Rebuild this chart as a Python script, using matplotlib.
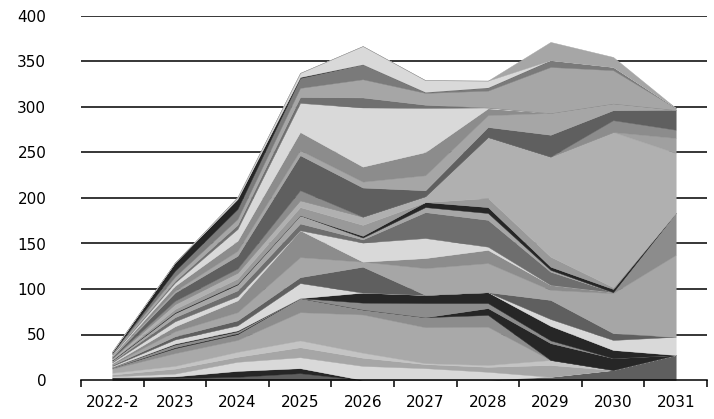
import numpy as np
import matplotlib
matplotlib.use("Agg")
import matplotlib.pyplot as plt
from matplotlib.ticker import FixedLocator, NullFormatter

categories = ["2022-2", "2023", "2024", "2025", "2026", "2027", "2028", "2029", "2030", "2031"]

# stacked series, bottom -> top
s01 = [2, 2, 3.5, 7.5, 0, 0, 0, 3.5, 11, 27.5]
s02 = [1, 2, 6.5, 5.5, 0, 0, 0, 0, 0, 0]
s03 = [1, 3, 10, 12, 15.5, 13, 9, 0, 0, 0]
s04 = [2, 5.5, 5.5, 11, 9, 4.5, 5.5, 13, 0, 0]
s05 = [2, 3, 5.5, 7.5, 5.5, 1, 2, 5.5, 0, 0]
s06 = [4.5, 14, 13, 31, 42, 39.5, 42, 0, 0, 0]
s07 = [1, 5.5, 6.5, 15.5, 5.5, 11, 13, 0, 0, 0]
s08 = [0, 1, 1, 0, 0, 0, 7.5, 18.5, 13, 0]
s09 = [1, 3, 2, 0, 7.5, 15.5, 5.5, 3, 0, 0]
s10 = [0, 1, 1, 0, 11, 9, 12, 16, 9, 0]
s11 = [1, 4.5, 5.5, 16.5, 0, 0, 0, 7.5, 11, 20]
s12 = [1, 3.5, 5.5, 6.5, 28.5, 0, 0, 21, 7.5, 0]
s13 = [1, 5.5, 9, 22, 5.5, 29.5, 32, 11, 44, 90]
s14 = [1, 5.5, 13, 29.5, 0, 11, 14.5, 5.5, 1, 46]
s15 = [1, 5.5, 4.5, 0, 21, 22, 3.5, 0, 0, 0]
s16 = [1, 4.5, 6.5, 7.5, 3.5, 28.5, 29.5, 14.5, 0, 0]
s17 = [1, 4.5, 6.5, 9, 2, 5.5, 7.5, 2, 0, 0]
s18 = [0.5, 1, 1, 0, 2, 5.5, 6.5, 3.5, 3.5, 0]
s19 = [0.5, 3.5, 5.5, 9, 12, 0, 10, 11, 2, 0]
s20 = [1, 5.5, 6.5, 7.5, 9, 6.5, 67, 110, 170.5, 66]
s21 = [0.5, 0, 0, 0, 0, 0, 0, 0, 0, 16.5]
s22 = [0.5, 3.5, 4.5, 11, 0, 0, 0, 0, 13, 9]
s23 = [1, 9, 14, 38.5, 32, 6.5, 11, 24, 11, 22]
s24 = [1, 2, 5.5, 5.5, 6.5, 16.5, 13, 24, 7.5, 0]
s25 = [0.5, 5.5, 11, 20, 16.5, 25.5, 7.5, 0, 0, 0]
s26 = [1, 3.5, 13, 32, 65, 48.5, 1, 0, 0, 0]
s27 = [0.5, 2, 4.5, 6.5, 11, 3.5, 0, 0, 0, 0]
s28 = [1, 4.5, 6.5, 10, 20, 13, 18.5, 50.5, 36.5, 2]
s29 = [0.5, 6.5, 11, 11, 16.5, 1, 3.5, 7.5, 3.5, 0]
s30 = [1, 9, 11, 1, 0, 0, 0, 0, 0, 0]
s31 = [0.5, 0, 2, 4.5, 20, 13, 7.5, 0, 0, 0]
s32 = [0, 0, 0, 0, 0, 0, 0, 20, 11, 0]

series = [s01, s02, s03, s04, s05, s06, s07, s08, s09, s10, s11, s12, s13, s14, s15, s16,
          s17, s18, s19, s20, s21, s22, s23, s24, s25, s26, s27, s28, s29, s30, s31, s32]

DARK, BLACK, LIGHT, GREY, MID = "#5f5f5f", "#262626", "#d9d9d9", "#a6a6a6", "#8c8c8c"
colors = [DARK, BLACK, LIGHT, GREY, "#c4c4c4", "#a9a9a9", MID, BLACK,
          MID, BLACK, LIGHT, DARK, GREY, MID, LIGHT, "#6e6e6e",
          GREY, BLACK, "#999999", "#b0b0b0", "#a0a0a0", MID, DARK, GREY,
          MID, LIGHT, "#707070", GREY, "#7a7a7a", BLACK, LIGHT, GREY]

plt.rcParams["font.family"] = "DejaVu Sans"

fig = plt.figure(figsize=(7.14, 4.19), dpi=100)
ax = fig.add_axes([81 / 714, 1 - 380 / 419, 626 / 714, 364 / 419])

x = np.arange(len(categories)) + 0.5
polys = ax.stackplot(x, *series, colors=colors, zorder=2)
for p in polys:
    p.set_edgecolor(p.get_facecolor())
    p.set_linewidth(0.3)

ax.set_xlim(0, len(categories))
ax.set_ylim(0, 400)

for v in range(50, 401, 50):
    ax.axhline(v, color="black", lw=1.1, zorder=1)

ax.set_yticks(range(0, 401, 50))
ax.tick_params(axis="y", length=0, pad=25, labelsize=11)

ax.xaxis.set_major_locator(FixedLocator(range(len(categories) + 1)))
ax.xaxis.set_major_formatter(NullFormatter())
ax.xaxis.set_minor_locator(FixedLocator(x))
ax.set_xticklabels(categories, minor=True)
ax.tick_params(axis="x", which="major", direction="out", length=5, width=1.1, color="black")
ax.tick_params(axis="x", which="minor", length=0, pad=11, labelsize=11)

for side in ["left", "right", "top"]:
    ax.spines[side].set_visible(False)
ax.spines["bottom"].set_linewidth(1.1)
ax.spines["bottom"].set_zorder(3)

fig.savefig("out.png", dpi=100)
